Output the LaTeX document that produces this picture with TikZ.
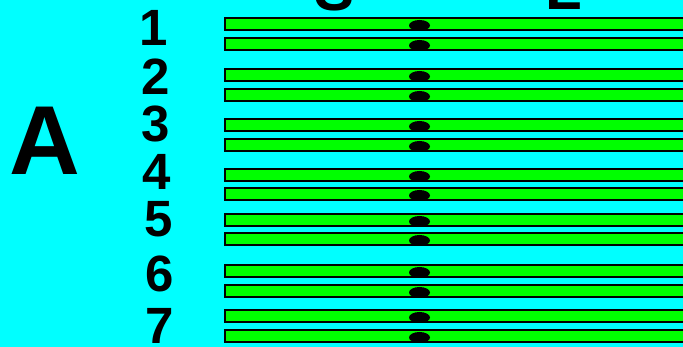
\documentclass[tikz,border=0pt]{standalone}
\usepackage{fontspec}
\setmainfont{Liberation Sans}
\definecolor{bgcyan}{HTML}{00FFFF}
\definecolor{chromgreen}{HTML}{00FF00}
\begin{document}
\begin{tikzpicture}[x=1pt,y=-1pt,
  digit/.style={inner sep=0pt,anchor=base,font=\fontsize{51}{51}\selectfont\bfseries},
  armlabel/.style={inner sep=0pt,font=\fontsize{60}{60}\selectfont\bfseries},
  chrom/.style={fill=chromgreen,draw=black,line width=2pt},
  centro/.style={fill=black}]
\useasboundingbox (0,0) rectangle (683,347);
\fill[bgcyan] (0,0) rectangle (683,347);
\clip (0,0) rectangle (683,347);
% chromosomes
\foreach \t in {17,37,68,88,118,138,168,187,213,232,264,284,309,329}{
  \draw[chrom] (225,\t+1) rectangle (700,\t+13);
  \fill[centro] (419.5,\t+8.5) ellipse [x radius=10.5,y radius=5.5];
}
% labels
\node[armlabel,anchor=base] (S) at (335,10.5) {S};
\node[armlabel,anchor=base west] (L) at (545.5,10) {L};
\node[inner sep=0pt,anchor=base,font=\fontsize{98}{98}\selectfont\bfseries] (A) at (44.5,175) {A};
\node[digit] (n1) at (154,46) {1};
\node[digit] (n2) at (156,95) {2};
\node[digit] (n3) at (156,142) {3};
\node[digit] (n4) at (156.5,190) {4};
\node[digit] (n5) at (159,237) {5};
\node[digit] (n6) at (159.5,292) {6};
\node[digit] (n7) at (159.5,344) {7};
\end{tikzpicture}
\end{document}
